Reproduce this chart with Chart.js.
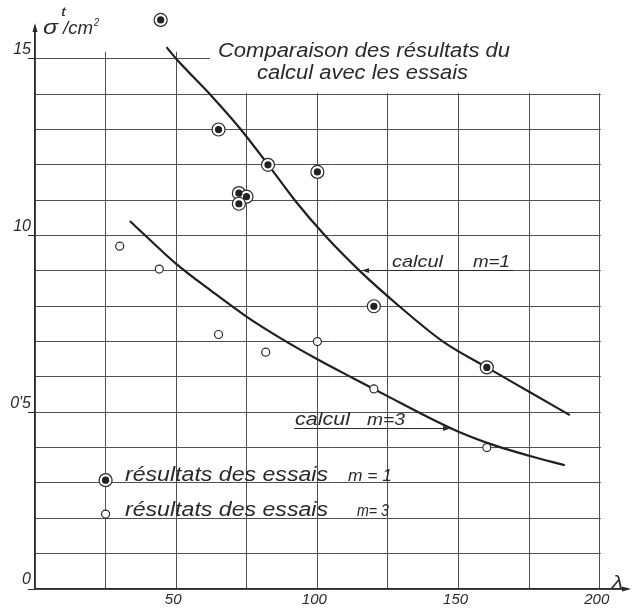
<!DOCTYPE html>
<html><head><meta charset="utf-8">
<script src="https://cdn.jsdelivr.net/npm/chart.js@4"></script>
<style>html,body{margin:0;padding:0;background:#fff}canvas{display:block}</style>
</head><body>
<canvas id="c" width="632" height="608"></canvas>
<script>
// ---- data ----
const xGridValues = [0, 25, 50, 75, 100, 125, 150, 175, 200];
const xTickValues = [50, 100, 150, 200];
const xTickLabels = ['50', '100', '150', '200'];
const yTickValues = [0, 5, 10, 15];
const yTickLabels = ['0', "0'5", '10', '15'];

const essaisM1X = [44.5, 65, 82.5, 100, 72.2, 74.9, 72.2, 120, 160];
const essaisM1Y = [16.1, 13.0, 12.0, 11.8, 11.2, 11.1, 10.9, 8.0, 6.27];
const essaisM3X = [30, 44, 65, 81.7, 100, 120, 160];
const essaisM3Y = [9.7, 9.05, 7.2, 6.7, 7.0, 5.66, 4.0];

const calculM1X = [46.6, 50, 62.5, 72.6, 82.6, 92, 102.7, 115, 129, 144.5, 160, 175, 189.4];
const calculM1Y = [15.33, 15.0, 13.95, 13.03, 12.0, 11.0, 10.0, 9.0, 8.0, 7.0, 6.27, 5.58, 4.92];
const calculM3X = [33.6, 40, 50, 62.5, 75, 87.5, 100, 112.5, 125, 137.5, 150, 162.5, 175, 187.6];
const calculM3Y = [10.41, 9.93, 9.2, 8.43, 7.7, 7.07, 6.5, 5.97, 5.45, 4.93, 4.45, 4.07, 3.77, 3.5];

const titleLines = ['Comparaison des résultats du', 'calcul avec les essais'];
const legendTexts = ['résultats des essais', 'résultats des essais'];
const legendTags = ['m = 1', 'm= 3'];

// ---- styling ----
const INK = '#2a2a2a';
const GRID = '#505050';
const FAM = '"Liberation Sans", "DejaVu Sans", sans-serif';
const pts = (xs, ys) => xs.map((x, i) => ({ x, y: ys[i] }));

function fitText(ctx, text, x, y, w, size) {
  ctx.save();
  ctx.font = 'italic ' + size + 'px ' + FAM;
  const m = ctx.measureText(text).width;
  ctx.translate(x, y);
  ctx.scale(w / m, 1);
  ctx.fillText(text, 0, 0);
  ctx.restore();
}

const sheet = {
  id: 'sheet',
  beforeDatasetsDraw(chart) {
    const { ctx, chartArea: a, scales: { x, y } } = chart;
    ctx.save();
    ctx.fillStyle = '#fff';
    const xe = x.getPixelForValue(62);
    const y14 = y.getPixelForValue(14);
    const y152 = y.getPixelForValue(15.2);
    const x200 = x.getPixelForValue(200);
    ctx.fillRect(xe, 0, a.right - xe + 10, y14 - 1);
    ctx.fillRect(a.left + 1, 0, xe - a.left - 1, y152);
    ctx.fillRect(x200 + 1, 0, a.right - x200 + 10, y.getPixelForValue(0) - 1.2);
    ctx.restore();
  },
  afterDraw(chart) {
    const { ctx, chartArea: a, scales: { x, y } } = chart;
    ctx.save();
    ctx.fillStyle = INK;
    ctx.strokeStyle = INK;
    // axis arrows
    ctx.beginPath();
    ctx.moveTo(a.left, a.top - 4); ctx.lineTo(a.left - 2.5, a.top + 5); ctx.lineTo(a.left + 2.5, a.top + 5); ctx.closePath();
    ctx.fill();
    const yb = y.getPixelForValue(0);
    ctx.beginPath();
    ctx.moveTo(a.right + 3, yb); ctx.lineTo(a.right - 6, yb - 2.5); ctx.lineTo(a.right - 6, yb + 2.5); ctx.closePath();
    ctx.fill();

    ctx.textBaseline = 'alphabetic';
    // title
    fitText(ctx, titleLines[0], 218, 57, 292, 20);
    fitText(ctx, titleLines[1], 257, 79, 211, 20);

    // axis titles
    fitText(ctx, 'σ', 43, 34, 15, 21);
    fitText(ctx, 't', 61, 16, 5, 13);
    fitText(ctx, '/cm', 63, 34, 30, 18);
    fitText(ctx, '2', 94, 26, 5, 11);
    fitText(ctx, 'λ', 612, 588, 11, 18);

    // calcul m=1 label with leader
    fitText(ctx, 'calcul', 392, 267, 51, 17);
    fitText(ctx, 'm=1', 473, 267, 37, 16);
    ctx.lineWidth = 1;
    ctx.beginPath(); ctx.moveTo(365, 270.5); ctx.lineTo(514, 270.5); ctx.stroke();
    ctx.beginPath(); ctx.moveTo(362, 270.5); ctx.lineTo(369, 268); ctx.lineTo(369, 273); ctx.closePath(); ctx.fill();

    // calcul m=3 label with leader
    fitText(ctx, 'calcul', 295, 425, 55, 18);
    fitText(ctx, 'm=3', 367, 425, 38, 17);
    ctx.beginPath(); ctx.moveTo(294, 428.5); ctx.lineTo(446, 428.5); ctx.stroke();
    ctx.beginPath(); ctx.moveTo(450, 428.5); ctx.lineTo(443, 426); ctx.lineTo(443, 431); ctx.closePath(); ctx.fill();

    // legend
    const lx = x.getPixelForValue(25);
    const l1 = y.getPixelForValue(3.08), l2 = y.getPixelForValue(2.12);
    ctx.fillStyle = '#fff'; ctx.strokeStyle = INK; ctx.lineWidth = 1.2;
    ctx.beginPath(); ctx.arc(lx, l1, 6.5, 0, Math.PI * 2); ctx.fill(); ctx.stroke();
    ctx.fillStyle = '#222';
    ctx.beginPath(); ctx.arc(lx, l1, 3.6, 0, Math.PI * 2); ctx.fill();
    ctx.fillStyle = '#fff';
    ctx.beginPath(); ctx.arc(lx, l2, 4, 0, Math.PI * 2); ctx.fill(); ctx.stroke();
    ctx.fillStyle = INK;
    fitText(ctx, legendTexts[0], 125, 481, 203, 20);
    fitText(ctx, legendTags[0], 348, 481, 44, 17);
    fitText(ctx, legendTexts[1], 125, 516, 203, 20);
    fitText(ctx, legendTags[1], 357, 516, 32, 17);
    ctx.restore();
  }
};

new Chart(document.getElementById('c'), {
  type: 'scatter',
  data: {
    datasets: [
      { label: 'calcul m=1', order: 3, data: pts(calculM1X, calculM1Y), showLine: true, cubicInterpolationMode: 'monotone',
        borderColor: '#1f1f1f', borderWidth: 2.2, pointRadius: 0, fill: false },
      { label: 'calcul m=3', order: 3, data: pts(calculM3X, calculM3Y), showLine: true, cubicInterpolationMode: 'monotone',
        borderColor: '#1f1f1f', borderWidth: 2.2, pointRadius: 0, fill: false },
      { label: 'essais m=1 ring', order: 2, data: pts(essaisM1X, essaisM1Y), pointRadius: 6.5, pointHoverRadius: 9,
        pointBorderWidth: 1.2, pointBackgroundColor: '#fff', pointBorderColor: INK, clip: false },
      { label: 'essais m=1 dot', order: 1, data: pts(essaisM1X, essaisM1Y), pointRadius: 3.6, pointHoverRadius: 9,
        pointBorderWidth: 0, pointBackgroundColor: '#222', pointBorderColor: '#222', clip: false },
      { label: 'essais m=3', order: 2, data: pts(essaisM3X, essaisM3Y), pointRadius: 4, pointHoverRadius: 9,
        pointBorderWidth: 1.2, pointBackgroundColor: '#fff', pointBorderColor: INK, clip: false }
    ]
  },
  options: {
    responsive: false, animation: false, devicePixelRatio: 1,
    layout: { autoPadding: false, padding: { left: 0, right: 4, top: 27, bottom: 0 } },
    plugins: { legend: { display: false }, tooltip: { enabled: false } },
    scales: {
      x: {
        type: 'linear', min: 0, max: 210,
        afterBuildTicks: s => { s.ticks = xGridValues.map(v => ({ value: v })); },
        afterFit: s => { s.height = 19; s.paddingLeft = 0; s.paddingRight = 0; },
        ticks: {
          autoSkip: false, maxRotation: 0, padding: 2, labelOffset: -3, color: INK,
          font: { family: FAM, size: 15, style: 'italic' },
          callback: v => { const i = xTickValues.indexOf(v); return i < 0 ? '' : xTickLabels[i]; }
        },
        grid: { color: GRID, lineWidth: 1, drawTicks: false },
        border: { color: INK, width: 1.3 }
      },
      y: {
        type: 'linear', min: 0, max: 15.9,
        afterBuildTicks: s => { const t = []; for (let v = 0; v <= 15; v++) t.push({ value: v }); s.ticks = t; },
        afterFit: s => { s.width = 35; s.paddingTop = 0; s.paddingBottom = 0; },
        ticks: {
          autoSkip: false, padding: -3, labelOffset: -9, color: INK,
          font: { family: FAM, size: 16, style: 'italic' },
          callback: v => { const i = yTickValues.indexOf(v); return i < 0 ? '' : yTickLabels[i]; }
        },
        grid: { color: GRID, lineWidth: 1, tickLength: 7,
          tickColor: c => (c.tick && yTickValues.indexOf(c.tick.value) >= 0) ? INK : 'rgba(0,0,0,0)' },
        border: { color: INK, width: 1.3 }
      }
    }
  },
  plugins: [sheet]
});
</script>
</body></html>
